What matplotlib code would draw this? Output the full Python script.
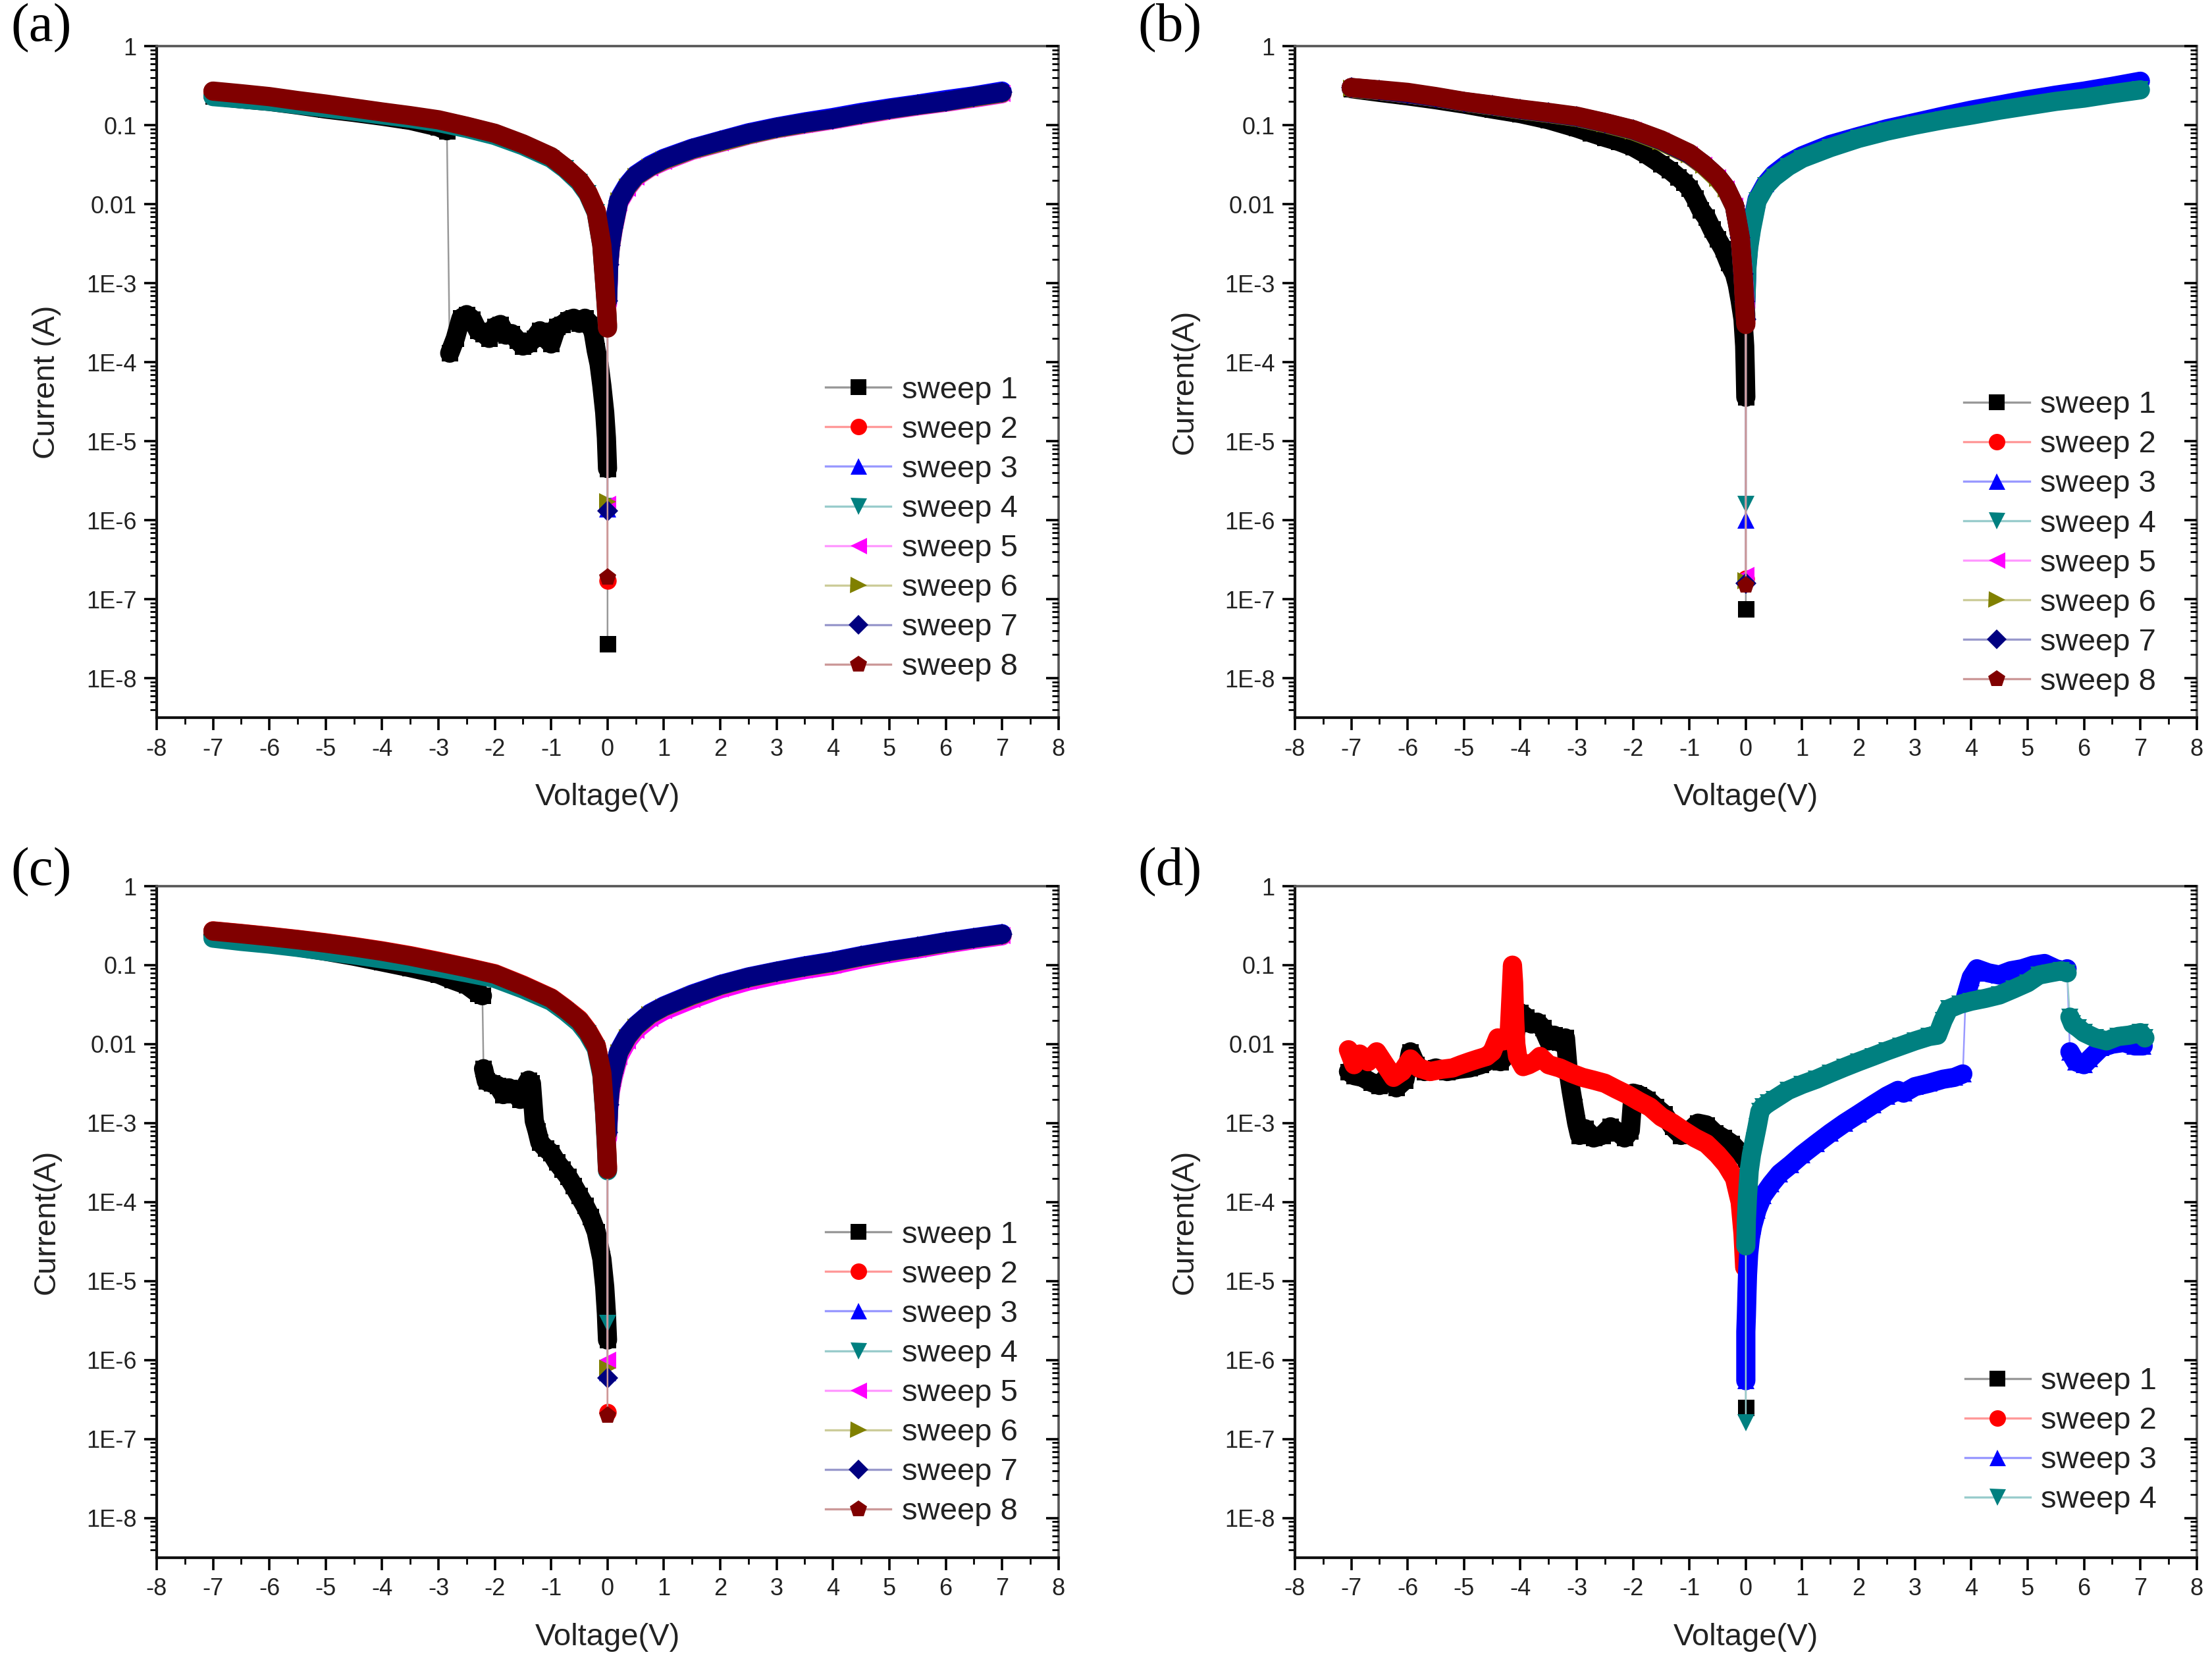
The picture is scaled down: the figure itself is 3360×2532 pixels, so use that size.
import numpy as np
import matplotlib
matplotlib.use('Agg')
import matplotlib.pyplot as plt
from matplotlib.lines import Line2D
from matplotlib.ticker import MultipleLocator, LogLocator, NullFormatter
from matplotlib.colors import to_rgb

plt.rcParams['font.family'] = ['Liberation Sans', 'DejaVu Sans']
plt.rcParams['axes.unicode_minus'] = False

# ── shared voltage grids (V) ────────────────────────────────────
V_NEG = [0.0, 0.0, -0.02, -0.05, -0.1, -0.2, -0.35, -0.5, -0.75, -1.0, -1.5,
         -2.0, -2.5, -3.0, -3.5, -4.0, -4.5, -5.0, -5.5, -6.0, -6.5, -7.0]
V_POS = [0.0, 0.0, 0.02, 0.05, 0.1, 0.2, 0.35, 0.5, 0.75, 1.0, 1.5,
         2.0, 2.5, 3.0, 3.5, 4.0, 4.5, 5.0, 5.5, 6.0, 6.5, 7.0]

# ── (a) currents (A) ────────────────────────────────────────────
V_A1 = [0.0, 0.0, -0.02, -0.05, -0.1, -0.15, -0.2, -0.25, -0.3, -0.4, -0.5,
        -0.6, -0.7, -0.8, -0.9, -1.0, -1.1, -1.2, -1.3, -1.4, -1.5, -1.6,
        -1.7, -1.8, -1.9, -2.0, -2.1, -2.2, -2.3, -2.4, -2.5, -2.6, -2.7,
        -2.8, -2.85, -3.0, -3.5, -4.0, -4.5, -5.0, -5.5, -6.0, -6.5, -7.0]
I_A1 = [2.7e-8, 4.5e-6, 1.1e-5, 2.3e-5, 5e-5, 9.5e-5, 1.4e-4, 2.3e-4, 3e-4,
        3.6e-4, 3.1e-4, 3.6e-4, 3.4e-4, 3e-4, 2.8e-4, 1.7e-4, 2e-4, 2.5e-4,
        2e-4, 1.7e-4, 1.6e-4, 1.9e-4, 2.3e-4, 2.2e-4, 3e-4, 2.8e-4, 2e-4,
        2.3e-4, 2.5e-4, 3.5e-4, 4e-4, 3.6e-4, 2e-4, 1.3e-4, 0.085, 0.095,
        0.115, 0.13, 0.145, 0.16, 0.18, 0.2, 0.215, 0.235]
I_A2 = [1.7e-7, 3e-4, 5.5e-4, 1.1e-3, 3.2e-3, 8.2e-3, 1.4e-2, 2.0e-2, 2.9e-2,
        3.9e-2, 5.7e-2, 7.8e-2, 9.6e-2, 0.115, 0.13, 0.145, 0.163, 0.18, 0.2,
        0.225, 0.245, 0.265]
I_A3 = [1.4e-6, 6.5e-4, 1.8e-3, 3.1e-3, 5.2e-3, 1.15e-2, 1.75e-2, 2.35e-2,
        3.1e-2, 3.8e-2, 5.1e-2, 6.4e-2, 8e-2, 9.5e-2, 0.11, 0.125, 0.145,
        0.165, 0.185, 0.21, 0.235, 0.27]
I_A4 = [1.5e-6, 2.8e-4, 5e-4, 1e-3, 3e-3, 7.8e-3, 1.35e-2, 1.9e-2, 2.8e-2,
        3.8e-2, 5.5e-2, 7.4e-2, 9.1e-2, 0.108, 0.122, 0.135, 0.15, 0.165,
        0.182, 0.2, 0.215, 0.23]
I_A5 = [1.6e-6, 5.5e-4, 1.6e-3, 2.8e-3, 4.7e-3, 1.05e-2, 1.6e-2, 2.2e-2,
        2.9e-2, 3.5e-2, 4.8e-2, 6e-2, 7.5e-2, 9e-2, 0.103, 0.117, 0.135,
        0.155, 0.175, 0.195, 0.22, 0.25]
I_A6 = [1.7e-6, 6e-4, 1.7e-3, 2.9e-3, 4.9e-3, 1.1e-2, 1.65e-2, 2.25e-2,
        2.95e-2, 3.6e-2, 4.9e-2, 6.1e-2, 7.6e-2, 9.1e-2, 0.105, 0.119, 0.138,
        0.158, 0.178, 0.198, 0.225, 0.255]
I_A7 = [1.3e-6, 6e-4, 1.7e-3, 3e-3, 5e-3, 1.1e-2, 1.7e-2, 2.3e-2, 3e-2,
        3.7e-2, 5e-2, 6.3e-2, 7.8e-2, 9.3e-2, 0.107, 0.12, 0.14, 0.16, 0.18,
        0.2, 0.23, 0.26]
I_A8 = [1.9e-7, 2.7e-4, 5e-4, 1e-3, 3e-3, 8e-3, 1.4e-2, 2e-2, 2.9e-2, 4e-2,
        5.8e-2, 7.9e-2, 9.7e-2, 0.117, 0.132, 0.147, 0.165, 0.185, 0.205,
        0.23, 0.25, 0.27]

# ── (b) currents (A) ────────────────────────────────────────────
V_B1 = [0.0, 0.0, -0.01, -0.02, -0.05, -0.1, -0.15, -0.2, -0.3, -0.4, -0.5,
        -0.6, -0.7, -0.8, -0.9, -1.0, -1.1, -1.2, -1.35, -1.5, -1.75, -2.0,
        -2.25, -2.5, -2.75, -3.0, -3.5, -4.0, -4.5, -5.0, -5.5, -6.0, -6.5,
        -7.0]
I_B1 = [7.5e-8, 3.6e-5, 8e-5, 1.6e-4, 3.5e-4, 6e-4, 9.5e-4, 1.3e-3, 1.8e-3,
        2.7e-3, 3.6e-3, 4.8e-3, 6.8e-3, 8.5e-3, 1.2e-2, 1.6e-2, 1.9e-2,
        2.2e-2, 2.7e-2, 3.2e-2, 4.2e-2, 5.3e-2, 6.2e-2, 7e-2, 8e-2, 9.2e-2,
        0.117, 0.14, 0.16, 0.185, 0.21, 0.235, 0.26, 0.29]
I_B2 = [1.8e-7, 3.2e-4, 5.5e-4, 1.35e-3, 3.9e-3, 9.6e-3, 1.6e-2, 2.2e-2,
        3.2e-2, 4.3e-2, 6.4e-2, 8.7e-2, 0.107, 0.128, 0.143, 0.158, 0.178,
        0.198, 0.226, 0.252, 0.276, 0.298]
I_B3 = [1.0e-6, 6e-4, 1.7e-3, 3e-3, 5.2e-3, 1.15e-2, 1.8e-2, 2.4e-2, 3.3e-2,
        4.1e-2, 5.7e-2, 7.2e-2, 9e-2, 0.108, 0.13, 0.155, 0.18, 0.21, 0.24,
        0.27, 0.31, 0.36]
I_B4 = [1.6e-6, 5.5e-4, 1.6e-3, 2.8e-3, 4.8e-3, 1.1e-2, 1.7e-2, 2.2e-2, 3e-2,
        3.8e-2, 5.2e-2, 6.8e-2, 8.4e-2, 0.1, 0.117, 0.134, 0.155, 0.176, 0.2,
        0.22, 0.25, 0.28]
I_B5 = [2.0e-7, 5.0e-4, 7.0e-4, 1.4e-3, 3.8e-3, 9.4e-3, 1.55e-2, 2.15e-2,
        3.1e-2, 4.2e-2, 6.3e-2, 8.6e-2, 0.106, 0.127, 0.142, 0.157, 0.177,
        0.197, 0.225, 0.25, 0.275, 0.296]
I_B6 = [1.7e-7, 4.0e-4, 6.0e-4, 1.3e-3, 3.7e-3, 9.3e-3, 1.55e-2, 2.1e-2,
        3.1e-2, 4.2e-2, 6.2e-2, 8.5e-2, 0.105, 0.126, 0.141, 0.156, 0.176,
        0.196, 0.224, 0.25, 0.274, 0.295]
I_B7 = [1.6e-7, 3.5e-4, 5.8e-4, 1.3e-3, 3.8e-3, 9.5e-3, 1.6e-2, 2.2e-2,
        3.2e-2, 4.3e-2, 6.4e-2, 8.7e-2, 0.107, 0.128, 0.143, 0.158, 0.178,
        0.198, 0.226, 0.252, 0.277, 0.299]
I_B8 = [1.5e-7, 3.0e-4, 5.0e-4, 1.3e-3, 3.8e-3, 9.5e-3, 1.6e-2, 2.2e-2,
        3.2e-2, 4.4e-2, 6.5e-2, 8.8e-2, 0.108, 0.13, 0.145, 0.16, 0.18, 0.2,
        0.23, 0.26, 0.28, 0.30]

# ── (c) currents (A) ────────────────────────────────────────────
V_C1 = [0.0, -0.01, -0.02, -0.05, -0.1, -0.2, -0.3, -0.4, -0.5, -0.6, -0.7,
        -0.8, -0.9, -1.0, -1.1, -1.2, -1.25, -1.3, -1.35, -1.4, -1.5, -1.55,
        -1.65, -1.75, -1.85, -1.95, -2.05, -2.15, -2.2, -2.22, -2.3, -2.5,
        -2.75, -3.0, -3.5, -4.0, -4.5, -5.0, -5.5, -6.0, -6.5, -7.0]
I_C1 = [1.8e-6, 2.6e-6, 3.9e-6, 8.5e-6, 1.9e-5, 4.2e-5, 6.5e-5, 9e-5, 1.2e-4,
        1.6e-4, 2.1e-4, 2.6e-4, 3.2e-4, 4.2e-4, 4.8e-4, 5.7e-4, 8e-4, 1.07e-3,
        3.2e-3, 3.5e-3, 2.6e-3, 2e-3, 2.4e-3, 2.8e-3, 2.3e-3, 3e-3, 3.2e-3,
        3.4e-3, 4.9e-3, 0.041, 0.044, 0.056, 0.065, 0.077, 0.093, 0.11, 0.13,
        0.15, 0.17, 0.19, 0.215, 0.24]
I_C2 = [2.2e-7, 2.8e-4, 5.8e-4, 1.45e-3, 4.4e-3, 9.6e-3, 1.48e-2, 2.05e-2,
        2.85e-2, 3.85e-2, 5.6e-2, 7.8e-2, 9.4e-2, 0.112, 0.132, 0.152, 0.172,
        0.192, 0.212, 0.232, 0.252, 0.272]
I_C3 = [7e-7, 8e-4, 1.75e-3, 2.95e-3, 4.4e-3, 8.2e-3, 1.28e-2, 1.72e-2,
        2.45e-2, 3.05e-2, 4.3e-2, 5.7e-2, 7.1e-2, 8.4e-2, 9.8e-2, 0.112,
        0.132, 0.152, 0.172, 0.198, 0.223, 0.25]
I_C4 = [2.9e-6, 2.5e-4, 5e-4, 1.3e-3, 4e-3, 8.8e-3, 1.35e-2, 1.85e-2, 2.6e-2,
        3.5e-2, 5e-2, 6.8e-2, 8e-2, 0.093, 0.107, 0.12, 0.135, 0.15, 0.168,
        0.185, 0.2, 0.22]
I_C5 = [1e-6, 6.5e-4, 1.5e-3, 2.5e-3, 3.8e-3, 7e-3, 1.1e-2, 1.5e-2, 2.1e-2,
        2.65e-2, 3.7e-2, 5e-2, 6.3e-2, 7.5e-2, 8.8e-2, 0.1, 0.12, 0.14, 0.16,
        0.185, 0.21, 0.235]
I_C6 = [8e-7, 7.5e-4, 1.65e-3, 2.8e-3, 4.2e-3, 7.8e-3, 1.22e-2, 1.65e-2,
        2.35e-2, 2.95e-2, 4.1e-2, 5.5e-2, 6.9e-2, 8.2e-2, 9.5e-2, 0.108,
        0.128, 0.148, 0.168, 0.192, 0.218, 0.243]
I_C7 = [6e-7, 7.7e-4, 1.7e-3, 2.9e-3, 4.3e-3, 8e-3, 1.25e-2, 1.7e-2, 2.4e-2,
        3e-2, 4.2e-2, 5.6e-2, 7e-2, 8.3e-2, 9.6e-2, 0.11, 0.13, 0.15, 0.17,
        0.195, 0.22, 0.246]
I_C8 = [2e-7, 2.6e-4, 5.6e-4, 1.4e-3, 4.3e-3, 9.4e-3, 1.45e-2, 2e-2, 2.8e-2,
        3.8e-2, 5.5e-2, 7.7e-2, 9.3e-2, 0.11, 0.13, 0.15, 0.17, 0.19, 0.21,
        0.23, 0.25, 0.27]

# ── (d) voltages (V) and currents (A) ───────────────────────────
V_D1 = [0.0, 0.0, -0.1, -0.25, -0.4, -0.55, -0.7, -0.85, -1.0, -1.15, -1.3,
        -1.45, -1.6, -1.75, -1.9, -2.0, -2.05, -2.15, -2.25, -2.4, -2.55,
        -2.7, -2.85, -2.95, -3.0, -3.05, -3.1, -3.15, -3.2, -3.3, -3.4, -3.5,
        -3.6, -3.7, -3.8, -3.9, -4.0, -4.05, -4.1, -4.2, -4.35, -4.5, -4.7,
        -4.9, -5.1, -5.3, -5.5, -5.7, -5.85, -5.95, -6.05, -6.2, -6.35, -6.5,
        -6.65, -6.8, -6.95, -7.05]
I_D1 = [2.5e-7, 3.5e-4, 4.2e-4, 5.5e-4, 6.5e-4, 7.5e-4, 9.5e-4, 1.0e-3,
        8.0e-4, 7.0e-4, 9.0e-4, 1.3e-3, 1.6e-3, 2.0e-3, 2.3e-3, 2.4e-3,
        8.0e-4, 6.5e-4, 7.5e-4, 9.0e-4, 7.0e-4, 6.5e-4, 8.5e-4, 7.0e-4,
        1.0e-3, 1.6e-3, 2.6e-3, 4.5e-3, 1.2e-2, 1.05e-2, 1.3e-2, 1.1e-2,
        1.6e-2, 1.9e-2, 1.8e-2, 2.2e-2, 2.5e-2, 2.0e-2, 1.2e-2, 8.0e-3,
        6.0e-3, 6.5e-3, 5.5e-3, 5.0e-3, 4.8e-3, 4.5e-3, 5.0e-3, 4.5e-3,
        5.5e-3, 8.0e-3, 3.5e-3, 2.8e-3, 4.0e-3, 3.0e-3, 3.3e-3, 3.8e-3,
        4.0e-3, 4.5e-3]
V_D2 = [0.0, -0.02, -0.05, -0.1, -0.2, -0.35, -0.5, -0.7, -0.9, -1.1, -1.3,
        -1.5, -1.7, -1.9, -2.1, -2.3, -2.5, -2.7, -2.9, -3.1, -3.3, -3.5,
        -3.65, -3.75, -3.85, -3.95, -4.05, -4.08, -4.1, -4.11, -4.12, -4.14,
        -4.16, -4.18, -4.2, -4.3, -4.4, -4.5, -4.6, -4.75, -4.9, -5.05, -5.2,
        -5.4, -5.6, -5.8, -5.95, -6.1, -6.25, -6.4, -6.55, -6.7, -6.85, -6.95,
        -7.05]
I_D2 = [6.5e-7, 1.5e-5, 4e-5, 1e-4, 2e-4, 3e-4, 4e-4, 5.5e-4, 6.5e-4, 8e-4,
        1e-3, 1.2e-3, 1.6e-3, 1.9e-3, 2.3e-3, 2.7e-3, 3.2e-3, 3.5e-3, 3.8e-3,
        4.3e-3, 5e-3, 5.5e-3, 7e-3, 6e-3, 5.5e-3, 5.2e-3, 7e-3, 1e-2, 2e-2,
        3.5e-2, 6e-2, 1e-1, 5e-2, 2.5e-2, 1.3e-2, 1.1e-2, 1.2e-2, 8e-3, 7e-3,
        6.5e-3, 6e-3, 5.5e-3, 5e-3, 4.8e-3, 4.5e-3, 5e-3, 6.5e-3, 4.5e-3,
        3.8e-3, 5.5e-3, 8e-3, 6e-3, 7.5e-3, 5.5e-3, 8.5e-3]
V_D3 = [0.0, 0.0, 0.0, 0.01, 0.02, 0.03, 0.05, 0.08, 0.12, 0.2, 0.3, 0.45,
        0.6, 0.8, 1.0, 1.25, 1.5, 1.75, 2.0, 2.25, 2.5, 2.7, 2.8, 3.0, 3.25,
        3.5, 3.7, 3.85, 3.9, 4.0, 4.1, 4.3, 4.5, 4.7, 4.9, 5.1, 5.3, 5.5,
        5.65, 5.7, 5.75, 5.85, 6.0, 6.1, 6.3, 6.5, 6.7, 6.9, 7.05]
I_D3 = [5.5e-7, 1.0e-6, 2.3e-6, 3.7e-6, 7e-6, 1.2e-5, 2.2e-5, 3.5e-5, 5e-5,
        8e-5, 1.2e-4, 1.7e-4, 2.3e-4, 3e-4, 4e-4, 5.5e-4, 7.5e-4, 1e-3,
        1.3e-3, 1.7e-3, 2.2e-3, 2.6e-3, 2.4e-3, 2.9e-3, 3.2e-3, 3.6e-3,
        3.8e-3, 4.2e-3, 4e-2, 7e-2, 9e-2, 8e-2, 7.5e-2, 8.5e-2, 9e-2, 1e-1,
        1.05e-1, 9e-2, 8.5e-2, 9e-2, 8e-3, 6e-3, 5.5e-3, 6.5e-3, 9e-3, 1e-2,
        1.05e-2, 9.5e-3, 9.5e-3]
V_D4 = [0.0, 0.0, 0.01, 0.03, 0.06, 0.1, 0.15, 0.2, 0.25, 0.3, 0.4, 0.5,
        0.75, 1.0, 1.25, 1.5, 1.75, 2.0, 2.25, 2.5, 2.75, 3.0, 3.25, 3.4, 3.5,
        3.6, 3.8, 4.0, 4.25, 4.5, 4.75, 5.0, 5.2, 5.4, 5.6, 5.7, 5.75, 5.8,
        5.9, 6.0, 6.2, 6.4, 6.6, 6.8, 7.0, 7.08]
I_D4 = [1.6e-7, 2.8e-5, 6e-5, 1.2e-4, 2.5e-4, 4e-4, 6e-4, 9e-4, 1.4e-3,
        1.6e-3, 1.8e-3, 2.0e-3, 2.6e-3, 3.1e-3, 3.6e-3, 4.3e-3, 5.1e-3, 6e-3,
        7e-3, 8.2e-3, 9.5e-3, 1.1e-2, 1.25e-2, 1.3e-2, 2e-2, 2.8e-2, 3.2e-2,
        3.5e-2, 3.8e-2, 4.2e-2, 5e-2, 6e-2, 7.5e-2, 8e-2, 8.5e-2, 8e-2,
        2.2e-2, 1.8e-2, 1.6e-2, 1.4e-2, 1.2e-2, 1.1e-2, 1.25e-2, 1.3e-2,
        1.4e-2, 1.2e-2]

YTICKS = [1, 0.1, 0.01, 1e-3, 1e-4, 1e-5, 1e-6, 1e-7, 1e-8]
YLABELS = ['1', '0.1', '0.01', '1E-3', '1E-4', '1E-5', '1E-6', '1E-7', '1E-8']

# ── styles ──────────────────────────────────────────────────────
COLORS = {1: '#000000', 2: '#ff0000', 3: '#0000ff', 4: '#008080',
          5: '#ff00ff', 6: '#808000', 7: '#000080', 8: '#800000'}
MARKERS = {1: 's', 2: 'o', 3: '^', 4: 'v', 5: '<', 6: '>', 7: 'D', 8: 'p'}
MSIZE = {1: 9, 2: 9.5, 3: 9.5, 4: 9.5, 5: 9.5, 6: 9.5, 7: 8, 8: 10}
LEG_MS = {1: 8.5, 2: 9, 3: 9, 4: 9, 5: 9, 6: 9, 7: 7.5, 8: 9.5}
BAND_LW = 10.5
JUMP = 0.5          # decades; bigger steps are drawn only with the thin line

PANELS = [
    dict(tag='(a)', ylabel='Current (A)', rect=[0.0708, 0.5695, 0.4077, 0.4028],
         tagxy=(0.005, 0.983), leg=(0.742, 0.509),
         series=[(1, V_A1, I_A1), (2, V_NEG, I_A2), (3, V_POS, I_A3),
                 (4, V_NEG, I_A4), (5, V_POS, I_A5), (6, V_POS, I_A6),
                 (7, V_POS, I_A7), (8, V_NEG, I_A8)]),
    dict(tag='(b)', ylabel='Current(A)', rect=[0.5854, 0.5695, 0.4077, 0.4028],
         tagxy=(0.5143, 0.983), leg=(0.742, 0.487),
         series=[(1, V_B1, I_B1), (2, V_NEG, I_B2), (3, V_POS, I_B3),
                 (4, V_POS, I_B4), (5, V_NEG, I_B5), (6, V_NEG, I_B6),
                 (7, V_NEG, I_B7), (8, V_NEG, I_B8)]),
    dict(tag='(c)', ylabel='Current(A)', rect=[0.0708, 0.0656, 0.4077, 0.4028],
         tagxy=(0.005, 0.477), leg=(0.742, 0.502),
         series=[(1, V_C1, I_C1), (2, V_NEG, I_C2), (3, V_POS, I_C3),
                 (4, V_NEG, I_C4), (5, V_POS, I_C5), (6, V_POS, I_C6),
                 (7, V_POS, I_C7), (8, V_NEG, I_C8)]),
    dict(tag='(d)', ylabel='Current(A)', rect=[0.5854, 0.0656, 0.4077, 0.4028],
         tagxy=(0.5143, 0.477), leg=(0.743, 0.284),
         series=[(1, V_D1, I_D1), (2, V_D2, I_D2), (3, V_D3, I_D3),
                 (4, V_D4, I_D4)]),
]


def light(c, f=0.6):
    r, g, b = to_rgb(c)
    return (r + (1 - r) * f, g + (1 - g) * f, b + (1 - b) * f)


def band_xy(v, cur):
    """Break the thick band wherever the current jumps by more than JUMP decades."""
    xs, ys = [v[0]], [cur[0]]
    for k in range(1, len(v)):
        if abs(np.log10(cur[k]) - np.log10(cur[k - 1])) > JUMP:
            xs.append(np.nan)
            ys.append(np.nan)
        xs.append(v[k])
        ys.append(cur[k])
    return xs, ys


def style_axes(ax, ylabel):
    ax.set_xlim(-8, 8)
    ax.set_yscale('log')
    ax.set_ylim(10 ** -8.5, 1)
    ax.xaxis.set_major_locator(MultipleLocator(1))
    ax.xaxis.set_minor_locator(MultipleLocator(0.5))
    ax.set_yticks(YTICKS)
    ax.set_yticklabels(YLABELS)
    ax.yaxis.set_minor_locator(LogLocator(base=10, subs=np.arange(2, 10), numticks=100))
    ax.yaxis.set_minor_formatter(NullFormatter())
    ax.tick_params(which='major', direction='out', length=7, width=1.3,
                   labelsize=13, labelcolor='#222222', pad=4,
                   top=False, right=False)
    ax.tick_params(which='minor', direction='out', length=3.5, width=1.0,
                   top=False, right=False)
    for s in ('left', 'bottom'):
        ax.spines[s].set_linewidth(1.5)
        ax.spines[s].set_color('#111111')
    for s in ('top', 'right'):
        ax.spines[s].set_linewidth(1.3)
        ax.spines[s].set_color('#555555')

    # inward ticks on the right axis
    tw = ax.twinx()
    tw.set_yscale('log')
    tw.set_ylim(ax.get_ylim())
    tw.set_yticks(YTICKS)
    tw.yaxis.set_minor_locator(LogLocator(base=10, subs=np.arange(2, 10), numticks=100))
    tw.yaxis.set_minor_formatter(NullFormatter())
    tw.tick_params(which='major', direction='in', length=7, width=1.3, labelright=False)
    tw.tick_params(which='minor', direction='in', length=3.5, width=1.0)
    for s in tw.spines.values():
        s.set_visible(False)

    ax.set_xlabel('Voltage(V)', fontsize=17, color='#222222')
    ax.xaxis.set_label_coords(0.5, -0.097)
    ax.set_ylabel(ylabel, fontsize=17, color='#222222')
    ax.yaxis.set_label_coords(-0.106, 0.5)


fig = plt.figure(figsize=(16.8, 12.66), facecolor='white')

for p in PANELS:
    ax = fig.add_axes(p['rect'])
    style_axes(ax, p['ylabel'])

    handles, labels = [], []
    for n, v, cur in p['series']:
        c = COLORS[n]
        ax.plot(v, cur, '-', color=light(c), lw=0.9)
        bx, by = band_xy(v, cur)
        ax.plot(bx, by, '-', color=c, lw=BAND_LW,
                solid_capstyle='round', solid_joinstyle='round')
        ax.plot(v, cur, ls='none', marker=MARKERS[n], ms=MSIZE[n],
                color=c, mew=0)
        handles.append(Line2D([], [], color=light(c), lw=1.2,
                              marker=MARKERS[n], ms=LEG_MS[n],
                              markerfacecolor=c, markeredgecolor=c, mew=0))
        labels.append(f'sweep {n}')

    ax.legend(handles, labels, loc='upper left', bbox_to_anchor=p['leg'],
              frameon=False, fontsize=17, handlelength=2.1,
              handletextpad=0.35, labelspacing=0.34, borderpad=0,
              borderaxespad=0, labelcolor='#222222')

    fig.text(p['tagxy'][0], p['tagxy'][1], p['tag'], fontsize=30,
             family=['Liberation Serif', 'DejaVu Serif'], va='center', ha='left')

fig.savefig('out.png', dpi=200, facecolor='white')
